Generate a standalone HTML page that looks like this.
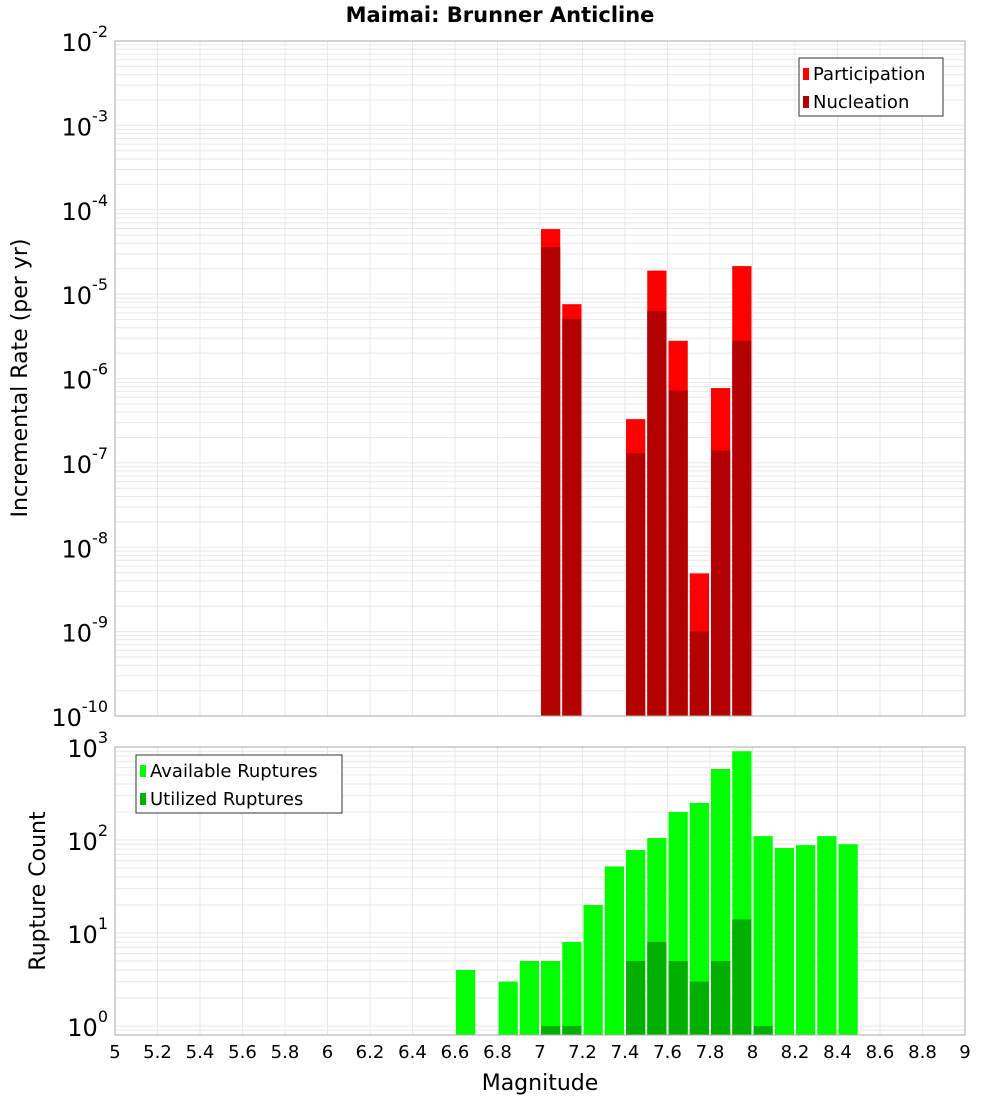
<!DOCTYPE html>
<html><head><meta charset="utf-8"><style>
body{margin:0;background:#fff;width:1000px;height:1100px;overflow:hidden}
svg text{font-family:"DejaVu Sans","Liberation Sans",sans-serif}
</style></head><body>
<svg id="c" width="1000" height="1100" xmlns="http://www.w3.org/2000/svg">
<text x="500" y="22" text-anchor="middle" font-size="21" font-weight="bold">Maimai: Brunner Anticline</text>
<g id="top"></g>
<g id="bot"></g>
<text transform="translate(27,378) rotate(-90)" text-anchor="middle" font-size="22">Incremental Rate (per yr)</text>
<text transform="translate(45,891) rotate(-90)" text-anchor="middle" font-size="22">Rupture Count</text>
<text x="540" y="1090" text-anchor="middle" font-size="22">Magnitude</text>
</svg>
<script>
const topMags=[7.05,7.15,7.45,7.55,7.65,7.75,7.85,7.95];
const participation=[5.9e-5,7.6e-6,3.3e-7,1.9e-5,2.8e-6,4.9e-9,7.7e-7,2.15e-5];
const nucleation=[3.6e-5,5.1e-6,1.3e-7,6.3e-6,7.2e-7,1.0e-9,1.4e-7,2.8e-6];
const botMags=[6.65,6.85,6.95,7.05,7.15,7.25,7.35,7.45,7.55,7.65,7.75,7.85,7.95,8.05,8.15,8.25,8.35,8.45];
const available=[4,3,5,5,8,20,52,78,105,200,250,580,900,110,82,88,110,90];
const utilized=[0,0,0,1,1,0,0,5,8,5,3,5,14,1,0,0,0,0];
const xTicks=["5","5.2","5.4","5.6","5.8","6","6.2","6.4","6.6","6.8","7","7.2","7.4","7.6","7.8","8","8.2","8.4","8.6","8.8","9"];
const topExps=[-2,-3,-4,-5,-6,-7,-8,-9,-10];
const botExps=[3,2,1,0];

const NS="http://www.w3.org/2000/svg";
const X0=115,X1=965;
const xs=m=>X0+(m-5)/4*(X1-X0);
const T0=41,T1=716;
const yt=v=>T0+(-2-Math.log10(v))*(T1-T0)/8;
const B0=747,B1=1035;
const yb=v=>1026-Math.log10(v)*93;
function el(p,t,a){const e=document.createElementNS(NS,t);for(const k in a)e.setAttribute(k,a[k]);p.appendChild(e);return e;}
function grid(g,y0,y1,ylog){
 for(let i=0;i<=20;i++){const x=xs(5+i*0.2);const l=el(g,'line',{x1:x,x2:x,y1:y0,y2:y1,stroke:'#e8e8e8'});
 
 }
 ylog.forEach(y=>{if(y>=y0&&y<=y1){const l=el(g,'line',{x1:X0,x2:X1,y1:y,y2:y,stroke:'#e8e8e8'});
 
 }});
}
const gTop=document.getElementById('top'),gBot=document.getElementById('bot');
let tl=[];for(let e=-10;e<-2;e++)for(let k=1;k<10;k++)tl.push(yt(k*Math.pow(10,e)));tl.push(yt(1e-2));
grid(gTop,T0,T1,tl);
let bl=[];for(let e=-1;e<3;e++)for(let k=1;k<10;k++)bl.push(yb(k*Math.pow(10,e)));bl.push(yb(1000));
grid(gBot,B0,B1,bl);
const bw=(X1-X0)/40;
function bar(g,m,v,base,yf,col,name){const x=xs(m)-bw/2+1;const y=yf(v);const r=el(g,'rect',{x:x,y:y,width:bw-2,height:base-y,fill:col});
 
 }
topMags.forEach((m,i)=>{bar(gTop,m,participation[i],T1,yt,'#ff0000','participation-bar');bar(gTop,m,nucleation[i],T1,yt,'#b30000','nucleation-bar');});
botMags.forEach((m,i)=>{bar(gBot,m,available[i],B1,yb,'#00ff00','available-bar');if(utilized[i]>0)bar(gBot,m,utilized[i],B1,yb,'#00b000','utilized-bar');});
el(gTop,'rect',{x:X0,y:T0,width:X1-X0,height:T1-T0,fill:'none',stroke:'#aaa'});
el(gBot,'rect',{x:X0,y:B0,width:X1-X0,height:B1-B0,fill:'none',stroke:'#aaa'});
function ylab(g,y,e,name){const t=el(g,'text',{x:108,y:y+10,'text-anchor':'end','font-size':24});
 
 
 t.textContent='10';const s=el(t,'tspan',{dy:-14,'font-size':16});s.textContent=String(e);}
topExps.forEach(e=>ylab(gTop,yt(Math.pow(10,e)),e,'top-y-tick-label'));
botExps.forEach(e=>ylab(gBot,yb(Math.pow(10,e)),e,'bottom-y-tick-label'));
xTicks.forEach(s=>{const t=el(gBot,'text',{x:xs(parseFloat(s)),y:1058,'text-anchor':'middle','font-size':18});
 
 
 t.textContent=s;});
function legend(g,x,y,w,items,name){const lg=el(g,'g',{});
 
 
 el(lg,'rect',{x:x,y:y,width:w,height:58,fill:'#fff',stroke:'#333'});
 items.forEach((it,i)=>{el(lg,'rect',{x:x+4,y:y+10+i*28,width:6,height:12,fill:it[1]});
 const t=el(lg,'text',{x:x+14,y:y+22+i*28,'font-size':18});t.textContent=it[0];});}
legend(gTop,799,58,144,[['Participation','#ff0000'],['Nucleation','#b30000']],'top-legend');
legend(gBot,136,755,206,[['Available Ruptures','#00ff00'],['Utilized Ruptures','#00b000']],'bottom-legend');
</script>
</body></html>
